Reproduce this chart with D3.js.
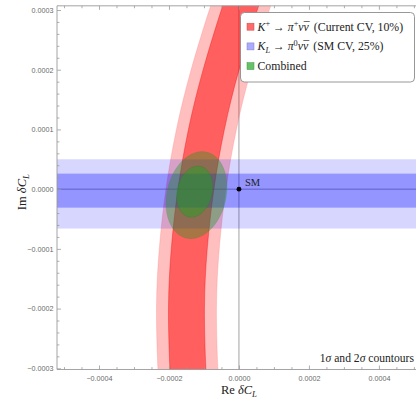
<!DOCTYPE html>
<html><head><meta charset="utf-8">
<script src="https://cdn.jsdelivr.net/npm/d3@7"></script>
<style>body{margin:0;background:#fff}svg{display:block}</style>
</head><body>
<svg id="c" width="416" height="399"></svg>
<script>
// ---------------- data ----------------
// K+ -> pi+ nu nubar band: centre line (Re) sampled at Im values, half widths for 1 and 2 sigma
const kpIm = [0.00035, 0.0003, 0.0002, 0.0001, 0, -0.0001, -0.0002, -0.0003, -0.00035];
const kpRe = [0.000031, 0.000001, -0.000051, -0.000093, -0.000123, -0.000142, -0.00015, -0.000146, -0.000141];
const kpHalf1 = 0.0000514;
const kpHalf2 = 0.0000857;
// K_L -> pi0 nu nubar band (Im range)
const klIm1 = [-0.000031, 0.000026];
const klIm2 = [-0.000066, 0.00005];
// combined ellipses: centre Re, centre Im, half width Re, half height Im, shear dRe/dIm
const comb2 = [-0.0001214, -0.00001, 0.0000857, 0.0000729, 0.22];
const comb1 = [-0.0001266, -0.0000042, 0.0000506, 0.0000429, 0.22];
const smPoint = [0, 0];
const xMajor = [-0.0004, -0.0002, 0, 0.0002, 0.0004];
const yMajor = [0.0003, 0.0002, 0.0001, 0, -0.0001, -0.0002, -0.0003];
const xFrame = [-0.00052, 0.000506];
const yFrame = [-0.000302, 0.000307];
const legendLabels = ["K+ → π+νν̄ (Current CV, 10%)", "KL → π0νν̄ (SM CV, 25%)", "Combined"];
const legendColors = ["#ff6a6a", "#aaaaff", "#66c266"];

// ---------------- setup ----------------
const svg = d3.select("#c");
const x = d3.scaleLinear().domain([-0.00052, 0.000506]).range([57, 416]);
const y = d3.scaleLinear().domain([-0.0003, 0.0003]).range([368.3, 10]);
const serif = "Liberation Serif, Times New Roman, DejaVu Serif, serif";
const sans = "Liberation Sans, DejaVu Sans, sans-serif";

const X0 = x(xFrame[0]), X1 = x(xFrame[1]), Y0 = y(yFrame[1]), Y1 = y(yFrame[0]);
svg.append("defs").append("clipPath").attr("id", "clip")
  .append("rect").attr("x", X0).attr("y", Y0).attr("width", X1 - X0).attr("height", Y1 - Y0);

const plot = svg.append("g").attr("clip-path", "url(#clip)");

// axes lines through origin
plot.append("line").attr("x1", X0).attr("x2", X1).attr("y1", y(0)).attr("y2", y(0))
  .attr("stroke", "#8a8a8a").attr("stroke-width", 0.8);
plot.append("line").attr("x1", x(0)).attr("x2", x(0)).attr("y1", Y0).attr("y2", Y1)
  .attr("stroke", "#8a8a8a").attr("stroke-width", 0.8);

// K+ band
const kp = kpIm.map((im, i) => ({im, re: kpRe[i]}));
function band(h) {
  return d3.area().curve(d3.curveNatural)
    .y(d => y(d.im)).x0(d => x(d.re - h)).x1(d => x(d.re + h))(kp);
}
plot.append("path").attr("d", band(kpHalf2)).attr("fill", "#ff0000").attr("fill-opacity", 0.25)
  .attr("stroke", "#ff8080").attr("stroke-opacity", 0.5).attr("stroke-width", 0.6);
plot.append("path").attr("d", band(kpHalf1)).attr("fill", "#ff0000").attr("fill-opacity", 0.5)
  .attr("stroke", "#ee0000").attr("stroke-opacity", 0.5).attr("stroke-width", 0.7);

// K_L band
function hband(r, op) {
  plot.append("rect").attr("x", X0).attr("width", X1 - X0)
    .attr("y", y(r[1])).attr("height", y(r[0]) - y(r[1]))
    .attr("fill", "#0000ff").attr("fill-opacity", op);
}
hband(klIm2, 0.16);
hband(klIm1, 0.3);

// combined ellipses
function ell(c) {
  const ts = d3.range(0, 2 * Math.PI + 0.001, Math.PI / 90);
  return d3.line().curve(d3.curveLinearClosed)
    .x(t => { const im = c[1] + c[3] * Math.sin(t); return x(c[0] + c[4] * (im - c[1]) + c[2] * Math.cos(t)); })
    .y(t => y(c[1] + c[3] * Math.sin(t)))(ts);
}
plot.append("path").attr("d", ell(comb2)).attr("fill", "#1a9a1a").attr("fill-opacity", 0.38)
  .attr("stroke", "#3a8a3a").attr("stroke-opacity", 0.3).attr("stroke-width", 0.6);
plot.append("path").attr("d", ell(comb1)).attr("fill", "#22a022").attr("fill-opacity", 0.5)
  .attr("stroke", "#2a7a2a").attr("stroke-opacity", 0.3).attr("stroke-width", 0.6);

// SM point
plot.append("circle").attr("cx", x(smPoint[0])).attr("cy", y(smPoint[1])).attr("r", 2.4).attr("fill", "#000");
svg.append("text").attr("x", x(smPoint[0]) + 6).attr("y", y(smPoint[1]) - 3)
  .attr("font-family", serif).attr("font-size", 10.5).attr("fill", "#222").text("SM");

// ---------------- frame & ticks ----------------
const frameColor = "#9a9a9a";
const fmt = d3.format(".4f");
const xMinor = d3.range(-10, 11).map(k => k * 0.00005).filter(v => !xMajor.some(m => Math.abs(m - v) < 1e-9));
const yMinor = d3.range(-15, 16).map(k => k * 0.00002).filter(v => !yMajor.some(m => Math.abs(m - v) < 1e-9));

function styleAxis(g) {
  g.select(".domain").remove();
  g.selectAll("line").attr("stroke", frameColor).attr("stroke-width", 0.8);
  g.selectAll("text").attr("fill", "#6a6a6a").attr("font-family", sans).attr("font-size", 7.2);
}
// bottom
svg.append("g").attr("transform", `translate(0,${Y1})`)
  .call(d3.axisBottom(x).tickValues(xMajor).tickFormat(fmt).tickSizeInner(-4).tickSizeOuter(0).tickPadding(6)).call(styleAxis);
svg.append("g").attr("transform", `translate(0,${Y1})`)
  .call(d3.axisBottom(x).tickValues(xMinor).tickFormat("").tickSizeInner(-2.4).tickSizeOuter(0)).call(styleAxis);
// top
svg.append("g").attr("transform", `translate(0,${Y0})`)
  .call(d3.axisTop(x).tickValues(xMajor).tickFormat("").tickSizeInner(-4).tickSizeOuter(0)).call(styleAxis);
svg.append("g").attr("transform", `translate(0,${Y0})`)
  .call(d3.axisTop(x).tickValues(xMinor).tickFormat("").tickSizeInner(-2.4).tickSizeOuter(0)).call(styleAxis);
// left
svg.append("g").attr("transform", `translate(${X0},0)`)
  .call(d3.axisLeft(y).tickValues(yMajor).tickFormat(fmt).tickSizeInner(-4).tickSizeOuter(0).tickPadding(3.5)).call(styleAxis);
svg.append("g").attr("transform", `translate(${X0},0)`)
  .call(d3.axisLeft(y).tickValues(yMinor).tickFormat("").tickSizeInner(-2.4).tickSizeOuter(0)).call(styleAxis);

// frame lines
svg.append("path").attr("d", `M${X1},${Y0}H${X0}V${Y1}H${X1}`).attr("fill", "none")
  .attr("stroke", frameColor).attr("stroke-width", 0.9);

// ---------------- rich text helper ----------------
function rich(parent, parts, fs) {
  const t = parent.append("text").attr("font-family", serif).attr("font-size", fs).attr("fill", "#222");
  let shift = 0;
  parts.forEach(([s, k, dx]) => {
    const sp = t.append("tspan").text(s);
    let target = 0;
    if (k.includes("sup")) { target = -0.38 * fs; sp.attr("font-size", fs * 0.7); }
    if (k.includes("sub")) { target = 0.22 * fs; sp.attr("font-size", fs * 0.7); }
    if (k.includes("i")) sp.attr("font-style", "italic");
    if (dx) sp.attr("dx", dx * fs);
    if (target !== shift) { sp.attr("dy", target - shift); shift = target; }
  });
  return t;
}

// axis titles
rich(svg, [["Re ", "n"], ["δC", "i"], ["L", "subi"]], 12.5)
  .attr("x", x(0)).attr("y", 394).attr("text-anchor", "middle");
rich(svg, [["Im ", "n"], ["δC", "i"], ["L", "subi"]], 12.5)
  .attr("text-anchor", "middle").attr("transform", `translate(26,${y(0) + 3}) rotate(-90)`);

// corner note
rich(svg, [["1", "n"], ["σ", "i"], [" and 2", "n"], ["σ", "i"], [" countours", "n"]], 11.6)
  .attr("x", 414).attr("y", 362).attr("text-anchor", "end");

// ---------------- legend ----------------
const lg = svg.append("g");
lg.append("rect").attr("x", 240.5).attr("y", 12.5).attr("width", 174).attr("height", 69.5).attr("rx", 4)
  .attr("fill", "#fff").attr("stroke", "#8c8c8c").attr("stroke-width", 0.9);
const legendParts = [
  [["K", "i"], ["+", "sup"], [" → ", "n"], ["π", "i"], ["+", "sup"], ["νν", "i"], ["\u00af", "n", -0.42], ["\u00a0(Current CV, 10%)", "n", 0.1]],
  [["K", "i"], ["L", "subi"], [" → ", "n"], ["π", "i"], ["0", "sup"], ["νν", "i"], ["\u00af", "n", -0.42], ["\u00a0(SM CV, 25%)", "n", 0.1]],
  [["Combined", "n"]]
];
legendLabels.forEach((lab, i) => {
  const cy = 26.7 + i * 19.7;
  lg.append("rect").attr("x", 247).attr("y", cy - 3.5).attr("width", 7).attr("height", 7)
    .attr("fill", legendColors[i]).attr("stroke", d3.color(legendColors[i]).darker(0.8)).attr("stroke-width", 0.5);
  rich(lg, legendParts[i], 11.8).attr("x", 257.5).attr("y", cy + 3.8).attr("data-label", lab);
});
</script>
</body></html>
